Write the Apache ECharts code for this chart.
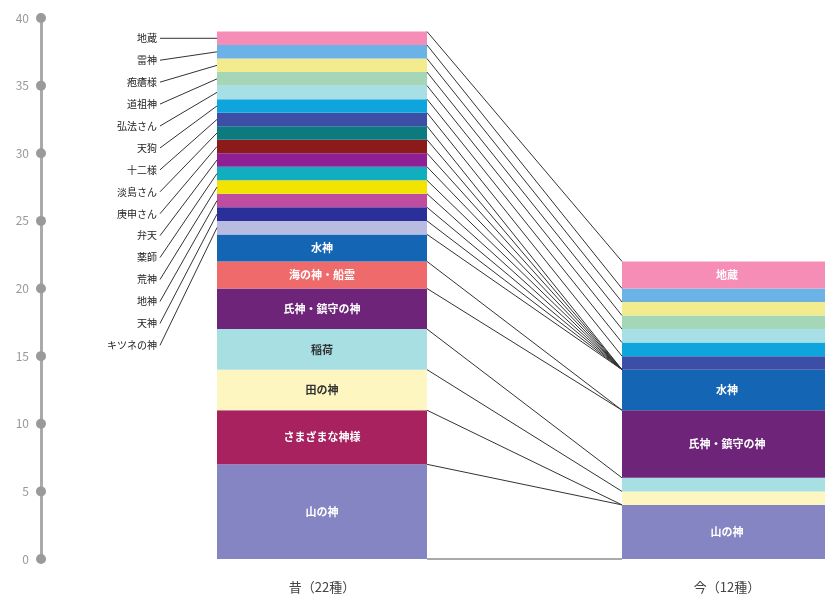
<!DOCTYPE html>
<html>
<head>
<meta charset="utf-8">
<script src="https://cdn.jsdelivr.net/npm/echarts@6/dist/echarts.min.js"></script>
<style>
html,body{margin:0;padding:0;background:#fff;}
#chart{width:825px;height:601px;}
</style>
</head>
<body>
<div id="chart"></div>
<script>
// ---- data (bottom of stack first) ----
const types = ['山の神','さまざまな神様','田の神','稲荷','氏神・鎮守の神','海の神・船霊','水神',
  'キツネの神','天神','地神','荒神','薬師','弁天','庚申さん','淡島さん','十二様','天狗','弘法さん','道祖神','疱瘡様','雷神','地蔵'];
const pastCounts = [7,4,3,3,3,2,2, 1,1,1,1,1,1,1,1,1,1,1,1,1,1,1];
const nowCounts  = [4,0,1,1,5,0,3, 0,0,0,0,0,0,0,0,1,1,1,1,1,1,2];
const colors = ['#8585c3','#a8225f','#fdf6c0','#a8dfe3','#6e2479','#ef6b6b','#1565b5',
  '#b8bce0','#2a2f9a','#c04ca0','#f2e400','#12aec0','#8e1f94','#8b1a1a','#0d7a80','#3c4ea6','#0ea5dc','#a6e0e6','#a6d6b8','#f3ec8e','#6bb2e6','#f58db6'];
const categories = ['昔（22種）','今（12種）'];
const yMin = 0, yMax = 40, yInterval = 5;
const insideLabelsPast = ['山の神','さまざまな神様','田の神','稲荷','氏神・鎮守の神','海の神・船霊','水神'];
const insideLabelsNow = ['山の神','氏神・鎮守の神','水神','地蔵'];
const darkLabels = ['田の神','稲荷'];

// ---- derived ----
const cumPast = [], cumNow = [];
pastCounts.reduce((s,v,i)=>{cumPast[i]=s+v;return s+v;},0);
nowCounts.reduce((s,v,i)=>{cumNow[i]=s+v;return s+v;},0);
const leaderIdx = types.map((t,i)=>i).filter(i=>!insideLabelsPast.includes(types[i])).reverse();

const BAR_W = 210;
const FONT = '"Noto Sans CJK JP", "Noto Sans", sans-serif';

const barSeries = types.map((name,i)=>({
  type:'bar', name, stack:'all', barWidth:BAR_W, silent:true,
  itemStyle:{color:colors[i]},
  label:{position:'inside', formatter:'{a}', color: darkLabels.includes(name)?'#333':'#fff',
    fontSize:11, fontWeight:'bold', fontFamily:FONT},
  data:[
    {value:pastCounts[i], label:{show:insideLabelsPast.includes(name)}},
    {value:nowCounts[i], label:{show:insideLabelsNow.includes(name)}}
  ]
}));

const connectorSeries = {
  type:'custom', silent:true, z:5,
  renderItem:(params, api)=>{
    const k = params.dataIndex;
    const vp = k===0?0:cumPast[k-1];
    const vn = k===0?0:cumNow[k-1];
    const p0 = api.coord([0, vp]);
    const p1 = api.coord([1, vn]);
    return {type:'line', shape:{x1:p0[0]+BAR_W/2, y1:p0[1], x2:p1[0]-BAR_W/2, y2:p1[1]},
      style:{stroke:k===0?'#aaa':'#333', lineWidth:k===0?2:1}};
  },
  data:[[0,0]].concat(types.map((t,i)=>[0,cumPast[i]]))
};

const leaderSeries = {
  type:'custom', silent:true, z:5,
  renderItem:(params, api)=>{
    const k = params.dataIndex;
    const t = leaderIdx[k];
    const top = leaderIdx[0];
    const yFirst = api.coord([0, cumPast[top]-pastCounts[top]/2])[1];
    const ly = yFirst + k*21.93;
    const target = api.coord([0, cumPast[t]-pastCounts[t]/2]);
    const barLeft = target[0]-BAR_W/2;
    const textRight = barLeft-60;
    return {type:'group', children:[
      {type:'line', shape:{x1:textRight+3, y1:ly, x2:barLeft, y2:target[1]}, style:{stroke:'#333', lineWidth:1}},
      {type:'text', style:{text:types[t], x:textRight, y:ly, align:'right', verticalAlign:'middle',
        fill:'#222', fontSize:10, fontFamily:FONT}}
    ]};
  },
  data:leaderIdx.map(i=>[0,cumPast[i]])
};

const chart = echarts.init(document.getElementById('chart'), null, {renderer:'canvas'});
chart.setOption({
  animation:false,
  backgroundColor:'#fff',
  grid:{left:119.5, top:18, width:810, bottom:42, containLabel:false, outerBoundsMode:'none'},
  xAxis:{type:'category', data:categories,
    axisLine:{show:false}, axisTick:{show:false},
    axisLabel:{color:'#444', fontSize:13, margin:22, fontFamily:FONT}},
  yAxis:{type:'value', min:yMin, max:yMax, interval:yInterval, offset:78.5,
    splitLine:{show:false}, axisTick:{show:false},
    axisLine:{show:true, lineStyle:{color:'#aaa', width:3}},
    axisLabel:{margin:-5, formatter:v=>`{t|${v}}{d|}`,
      rich:{t:{color:'#999', fontSize:12, padding:[0,7,0,0], fontFamily:FONT},
            d:{width:10, height:10, borderRadius:5, backgroundColor:'#9a9a9a'}}}},
  series:barSeries.concat([connectorSeries, leaderSeries])
});
</script>
</body>
</html>
